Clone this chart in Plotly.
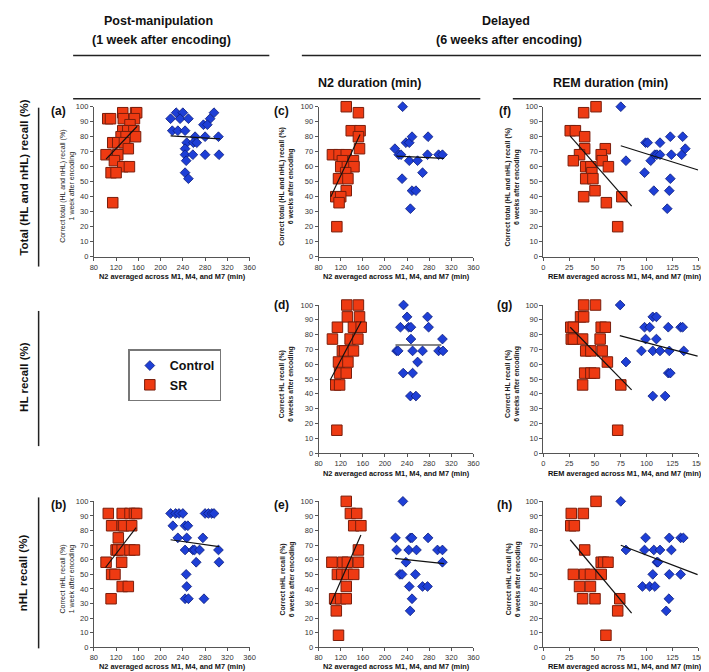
import plotly.graph_objects as go

W, H = 709, 672
FONT = "Liberation Sans, Arial"

# ---------------- data ----------------
# Panel (a): total recall 1 week vs N2
sr_a_x = [132,155,157,105,110,133,153,145,132,141,152,129,138,155,114,123,135,142,102,123,117,132,144,111,120,114]
sr_a_y = [96,96,96,92,92,92,92,88,84,84,84,80,80,80,76,76,76,72,68,68,64,60,60,56,56,36]
ct_a_x = [228,240,296,218,235,250,289,277,284,221,231,244,262,280,304,247,259,265,244,244,258,280,305,246,244,250]
ct_a_y = [96,96,96,92,92,92,92,88,88,84,84,84,80,80,80,76,76,76,72,68,68,68,68,64,56,52]
tr_a_sr_x, tr_a_sr_y = [102,158], [65,87]
tr_a_ct_x, tr_a_ct_y = [218,307], [80.5,78.5]

# Panel (b): nHL recall 1 week vs N2
sr_b_x = [106,131,145,153,157,112,131,134,148,124,120,123,131,145,153,102,130,112,118,131,142,111]
sr_b_y = [91.7,91.7,91.7,91.7,91.7,83.3,83.3,83.3,83.3,75,66.7,66.7,66.7,66.7,66.7,58.3,58.3,50,50,41.7,41.7,33.3]
ct_b_x = [218,227,233,240,280,286,292,296,222,244,249,231,247,276,244,258,261,270,304,264,305,246,247,244,250,278]
ct_b_y = [91.7,91.7,91.7,91.7,91.7,91.7,91.7,91.7,83.3,83.3,83.3,75,75,75,66.7,66.7,66.7,66.7,66.7,58.3,58.3,50,41.7,33.3,33.3,33.3]
tr_b_sr_x, tr_b_sr_y = [101,156], [54.7,82]
tr_b_ct_x, tr_b_ct_y = [218,305], [73.7,69]

# Panel (c): total recall 6 weeks vs N2
sr_c_x = [130,152,139,155,152,154,105,117,130,123,143,120,132,144,129,116,133,130,111,120,117,113]
sr_c_y = [100,96,84,84,80,72,68,68,68,64,64,60,60,60,56,52,52,44,40,40,36,20]
ct_c_x = [232,218,225,229,238,244,249,278,244,259,277,297,304,268,231,249,256,246]
ct_c_y = [100,72,68,68,76,76,80,80,64,64,68,68,68,56,52,44,44,32]
tr_c_sr_x, tr_c_sr_y = [102,155], [40,81.5]
tr_c_ct_x, tr_c_ct_y = [221,307], [67,65.5]

# Panel (d): HL recall 6 weeks vs N2
sr_d_x = [131,152,132,154,114,143,157,105,137,151,123,127,143,116,133,118,130,111,118,113]
sr_d_y = [100,100,92,92,85,85,85,77,77,77,69,69,69,61.5,61.5,54,54,46,46,15.4]
ct_d_x = [233.6,240,277,228,243,247,279,247,304,221,224,250,268,297,305,259,233,250,246,256]
ct_d_y = [100,92,92,85,85,85,85,77,77,69,69,69,69,69,69,61.5,54,54,38.5,38.5]
tr_d_sr_x, tr_d_sr_y = [101,157], [49.3,88.9]
tr_d_ct_x, tr_d_ct_y = [219,302], [73,73]

# Panel (e): nHL recall 6 weeks vs N2
sr_e_x = [130,137.5,149,143.5,156.5,152,104,124,132,152,114,122,132,143.5,130,109,120,130,112,116]
sr_e_y = [100,91.7,91.7,83.3,83.3,66.7,58.3,58.3,58.3,58.3,50,50,50,50,41.7,33.3,33.3,33.3,25,8.3]
ct_e_x = [232.5,219,246,249,278,221,243,257,295,304,238,304,227,231,255,244,268,277,249,245.6]
ct_e_y = [100,75,75,75,75,66.7,66.7,66.7,66.7,66.7,58.3,58.3,50,50,50,41.7,41.7,41.7,33.3,25]
tr_e_sr_x, tr_e_sr_y = [101,156.5], [29,77]
tr_e_ct_x, tr_e_ct_y = [218,307], [61,57.4]

# Panel (f): total recall 6 weeks vs REM
sr_f_x = [51,39,26,31,40,40,60,35,56,29,57,41,46,63,47,41,48,50,39,76,61,72]
sr_f_y = [100,96,84,84,80,72,72,68,68,64,64,60,60,60,56,52,52,44,40,40,36,20]
ct_f_x = [75,80,98,99,101,104,108,110,113,113,107,123,135,124,134,137.5,123,122,120]
ct_f_y = [100,64,56,76,76,64,68,68,68,76,44,80,80,68,68,72,52,44,32]
tr_f_sr_x, tr_f_sr_y = [26,85.5], [80.4,33.7]
tr_f_ct_x, tr_f_ct_y = [75,150], [74,57.8]

# Panel (g): HL recall 6 weeks vs REM
sr_g_x = [39,50.5,36,39,26.5,29,56,60,27,29,38,55,41,46,57,62,40,46,49.5,38,75,72]
sr_g_y = [100,100,92,92,85,85,85,85,77,77,77,77,69,69,69,61.5,54,54,54,46,46,15.4]
ct_g_x = [74.4,80,95,98,103,99,106,109.5,109.5,106,113,121,122,121,123,106,118,133,135,136]
ct_g_y = [100,61.5,69,85,85,77,92,92,77,69,69,85,69,54,54,38.5,38.5,85,85,69]
tr_g_sr_x, tr_g_sr_y = [26,85.5], [85,42.7]
tr_g_ct_x, tr_g_ct_y = [74,149.4], [79.3,65.5]

# Panel (h): nHL recall 6 weeks vs REM
sr_h_x = [51,27,38.7,26.5,30,40,29,40,45.6,56,56,58.4,62.6,35,45.6,38,50,74,72,60.6]
sr_h_y = [100,91.7,91.7,83.3,83.3,66.7,50,50,50,50,58.3,58.3,58.3,41.7,41.7,33.3,33.3,33.3,25,8.3]
ct_h_x = [75,80,99,122,133,135.6,98,107,113,124,110,111,106,122,133,96,103,108,121.6,119]
ct_h_y = [100,66.7,75,75,75,75,66.7,66.7,66.7,66.7,58.3,58.3,50,50,50,41.7,41.7,41.7,33.3,25]
tr_h_sr_x, tr_h_sr_y = [26,85.5], [73.7,23.4]
tr_h_ct_x, tr_h_ct_y = [75,149.4], [69.9,49.8]

n2_ticks = [80,120,160,200,240,280,320,360]
rem_ticks = [0,25,50,75,100,125,150]
y_ticks = [0,10,20,30,40,50,60,70,80,90,100]

N2_TITLE = "N2 averaged across M1, M4, and M7 (min)"
REM_TITLE = "REM averaged across M1, M4, and M7 (min)"

# ---------------- layout geometry (pixels) ----------------
cols = {1: (83, 241), 2: (311, 468), 3: (539, 696)}
rows = {1: (96, 248), 2: (297, 447), 3: (496, 644)}

panels = [
    ("(a)", 1, 1, (sr_a_x, sr_a_y), (ct_a_x, ct_a_y), (tr_a_sr_x, tr_a_sr_y), (tr_a_ct_x, tr_a_ct_y),
     "Correct total (HL and nHL) recall (%)<br>1 week after encoding", False),
    ("(b)", 1, 3, (sr_b_x, sr_b_y), (ct_b_x, ct_b_y), (tr_b_sr_x, tr_b_sr_y), (tr_b_ct_x, tr_b_ct_y),
     "Correct nHL recall (%)<br>1 week after encoding", False),
    ("(c)", 2, 1, (sr_c_x, sr_c_y), (ct_c_x, ct_c_y), (tr_c_sr_x, tr_c_sr_y), (tr_c_ct_x, tr_c_ct_y),
     "Correct total (HL and nHL) recall (%)<br>6 weeks after encoding", True),
    ("(d)", 2, 2, (sr_d_x, sr_d_y), (ct_d_x, ct_d_y), (tr_d_sr_x, tr_d_sr_y), (tr_d_ct_x, tr_d_ct_y),
     "Correct HL recall (%)<br>6 weeks after encoding", True),
    ("(e)", 2, 3, (sr_e_x, sr_e_y), (ct_e_x, ct_e_y), (tr_e_sr_x, tr_e_sr_y), (tr_e_ct_x, tr_e_ct_y),
     "Correct nHL recall (%)<br>6 weeks after encoding", True),
    ("(f)", 3, 1, (sr_f_x, sr_f_y), (ct_f_x, ct_f_y), (tr_f_sr_x, tr_f_sr_y), (tr_f_ct_x, tr_f_ct_y),
     "Correct total (HL and nHL) recall (%)<br>6 weeks after encoding", True),
    ("(g)", 3, 2, (sr_g_x, sr_g_y), (ct_g_x, ct_g_y), (tr_g_sr_x, tr_g_sr_y), (tr_g_ct_x, tr_g_ct_y),
     "Correct HL recall (%)<br>6 weeks after encoding", True),
    ("(h)", 3, 3, (sr_h_x, sr_h_y), (ct_h_x, ct_h_y), (tr_h_sr_x, tr_h_sr_y), (tr_h_ct_x, tr_h_ct_y),
     "Correct nHL recall (%)<br>6 weeks after encoding", True),
]

SR_FILL, SR_LINE = "#EE3A12", "#7A1E0C"
CT_FILL, CT_LINE = "#1E3FD6", "#0B1C7A"

def px(x):
    return x / W

def py(y):
    return 1 - y / H

fig = go.Figure()
layout = {}
annotations = []
shapes = []

first = True
for i, (lab, c, r, sr, ct, trs, trc, ytitle, bold) in enumerate(panels, start=1):
    xa = "x" if i == 1 else f"x{i}"
    ya = "y" if i == 1 else f"y{i}"
    x0, x1 = cols[c]
    y0, y1 = rows[r]
    is_rem = (c == 3)
    axis_common = dict(showline=True, linecolor="#555", linewidth=1, ticks="outside",
                       ticklen=3, tickcolor="#555", tickwidth=1, showgrid=False, zeroline=False,
                       tickfont=dict(family=FONT, size=7.5, color="#333"))
    layout["xaxis" if i == 1 else f"xaxis{i}"] = dict(
        domain=[px(x0), px(x1)], anchor=ya,
        range=[0, 150] if is_rem else [80, 360],
        tickvals=rem_ticks if is_rem else n2_ticks, **axis_common)
    layout["yaxis" if i == 1 else f"yaxis{i}"] = dict(
        domain=[py(y1), py(y0)], anchor=xa, range=[0, 100], tickvals=y_ticks, **axis_common)

    fig.add_trace(go.Scatter(x=ct[0], y=ct[1], mode="markers", xaxis=xa, yaxis=ya,
                             name="<b>Control</b>", showlegend=first, cliponaxis=False,
                             marker=dict(symbol="diamond", size=7.5, color=CT_FILL,
                                         line=dict(color=CT_LINE, width=0.8))))
    fig.add_trace(go.Scatter(x=sr[0], y=sr[1], mode="markers", xaxis=xa, yaxis=ya,
                             name="<b>SR</b>", showlegend=first, cliponaxis=False,
                             marker=dict(symbol="square", size=10.5, color=SR_FILL,
                                         line=dict(color=SR_LINE, width=1))))
    fig.add_trace(go.Scatter(x=trs[0], y=trs[1], mode="lines", xaxis=xa, yaxis=ya,
                             showlegend=False, cliponaxis=False, line=dict(color="#111", width=1.2)))
    fig.add_trace(go.Scatter(x=trc[0], y=trc[1], mode="lines", xaxis=xa, yaxis=ya,
                             showlegend=False, cliponaxis=False, line=dict(color="#111", width=1.2)))
    first = False

    # panel label
    lx = {1: 47, 2: 273, 3: 500}[c]
    ly = {1: 100, 2: 297, 3: 500}[r]
    annotations.append(dict(text=f"<b>{lab}</b>", x=px(lx), y=py(ly), xref="paper", yref="paper",
                            showarrow=False, xanchor="center", yanchor="middle",
                            font=dict(family=FONT, size=12, color="#111")))
    # y title
    tx = {1: 56, 2: 279, 3: 508}[c]
    ttxt = f"<b>{ytitle}</b>" if bold else ytitle
    annotations.append(dict(text=ttxt, x=px(tx), y=py((y0 + y1) / 2 + 5), xref="paper", yref="paper",
                            showarrow=False, xanchor="center", yanchor="middle", textangle=-90,
                            font=dict(family=FONT, size=6.9 if bold else 7, color="#222")))
    # x title
    xt_y = {1: 268, 2: 468, 3: 663}[r]
    xc = {1: 163, 2: 390, 3: 622}[c]
    annotations.append(dict(text=f"<b>{REM_TITLE if is_rem else N2_TITLE}</b>",
                            x=px(xc), y=py(xt_y), xref="paper", yref="paper",
                            showarrow=False, xanchor="center", yanchor="middle",
                            font=dict(family=FONT, size=7.4, color="#111")))

# headers
def header(text, x, y, size=12.5):
    annotations.append(dict(text=f"<b>{text}</b>", x=px(x), y=py(y), xref="paper", yref="paper",
                            showarrow=False, xanchor="center", yanchor="middle",
                            font=dict(family=FONT, size=size, color="#111")))

header("Post-manipulation", 149, 9)
header("(1 week after encoding)", 152, 28)
header("Delayed", 501, 9)
header("(6 weeks after encoding)", 504, 28)
header("N2 duration (min)", 363, 72)
header("REM duration (min)", 607, 72)

for (xa_, xb_, yy) in [(62, 261, 44), (294, 707, 44), (62, 475, 88), (508, 707, 88)]:
    shapes.append(dict(type="line", xref="paper", yref="paper", x0=px(xa_), x1=px(xb_),
                       y0=py(yy), y1=py(yy), line=dict(color="#222", width=1.5)))

# row labels
for text, yc, (la, lb) in [("Total (HL and nHL) recall (%)", 168, (97, 258)),
                           ("HL recall (%)", 370, (303, 440)),
                           ("nHL recall (%)", 568, (492, 645))]:
    annotations.append(dict(text=f"<b>{text}</b>", x=px(12), y=py(yc), xref="paper", yref="paper",
                            showarrow=False, xanchor="center", yanchor="middle", textangle=-90,
                            font=dict(family=FONT, size=11.5, color="#111")))
    shapes.append(dict(type="line", xref="paper", yref="paper", x0=px(27), x1=px(27),
                       y0=py(la), y1=py(lb), line=dict(color="#222", width=1.5)))

fig.update_layout(
    width=W, height=H, margin=dict(l=0, r=0, t=0, b=0),
    paper_bgcolor="white", plot_bgcolor="white",
    showlegend=True,
    legend=dict(x=px(118), y=py(342), xanchor="left", yanchor="top",
                bordercolor="#777", borderwidth=1.5, bgcolor="white",
                font=dict(family=FONT, size=12.5, color="#111"),
                tracegroupgap=0, itemsizing="trace"),
    annotations=annotations, shapes=shapes, **layout)

fig.write_html("out.html")
